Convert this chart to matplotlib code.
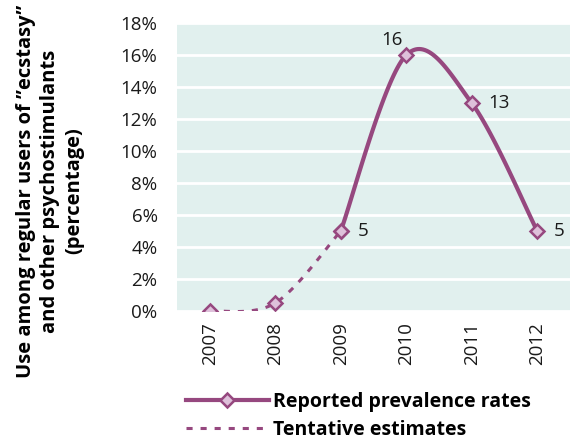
import numpy as np
import matplotlib.pyplot as plt

plt.rcParams['font.family'] = ['Open Sans', 'DejaVu Sans']
plt.rcParams['font.size'] = 13.5

years = [2007, 2008, 2009, 2010, 2011, 2012]
reported_years = [2009, 2010, 2011, 2012]
reported_vals = [5, 16, 13, 5]
tentative_years = [2007, 2008, 2009]
tentative_vals = [0, 0.5, 5]
labels = {2009: '5', 2010: '16', 2011: '13', 2012: '5'}

line_col = '#96487f'
face_col = '#dec0da'
bg_col = '#e1f0ee'


def smooth(xs, ys, n=40):
    # catmull-rom style smoothing, like a spreadsheet "smoothed line"
    xs = np.asarray(xs, float)
    ys = np.asarray(ys, float)
    px = np.concatenate([[xs[0]], xs, [xs[-1]]])
    py = np.concatenate([[ys[0]], ys, [ys[-1]]])
    outx, outy = [], []
    for i in range(1, len(px) - 2):
        p0, p1, p2, p3 = [np.array([px[j], py[j]]) for j in (i - 1, i, i + 1, i + 2)]
        c1 = p1 + (p2 - p0) / 6
        c2 = p2 - (p3 - p1) / 6
        t = np.linspace(0, 1, n)[:, None]
        b = (1 - t) ** 3 * p1 + 3 * (1 - t) ** 2 * t * c1 + 3 * (1 - t) * t ** 2 * c2 + t ** 3 * p2
        outx.extend(b[:, 0])
        outy.extend(b[:, 1])
    return outx, outy


fig = plt.figure(figsize=(5.7, 4.44), dpi=100)
ax = fig.add_axes([0.3105, 0.2995, 0.6895, 0.6486])
ax.set_facecolor(bg_col)

sx, sy = smooth(tentative_years, tentative_vals)
ax.plot(sx, sy, color=line_col, lw=2.2, ls=(0, (2, 2.6)), zorder=2)
sx, sy = smooth(reported_years, reported_vals)
ax.plot(sx, sy, color=line_col, lw=3, zorder=3)

ax.plot(years[:3], tentative_vals, ls='none', marker='D', ms=7.5,
        mfc=face_col, mec=line_col, mew=1.8, zorder=4)
ax.plot(reported_years, reported_vals, ls='none', marker='D', ms=7.5,
        mfc=face_col, mec=line_col, mew=1.8, zorder=4)

for yr, v in zip(reported_years, reported_vals):
    if yr == 2010:
        ax.annotate(labels[yr], (yr, v), xytext=(-10, 11), textcoords='offset points',
                    ha='center', va='center', color='#1a1a1a')
    else:
        ax.annotate(labels[yr], (yr, v), xytext=(12, 0), textcoords='offset points',
                    ha='left', va='center', color='#1a1a1a')

ax.set_xlim(2006.5, 2012.5)
ax.set_ylim(0, 18)
ax.set_yticks(range(0, 19, 2))
ax.set_yticklabels([f'{v}%' for v in range(0, 19, 2)], color='#1a1a1a')
ax.set_xticks(years)
ax.set_xticklabels([str(y) for y in years], rotation=90, color='#1a1a1a')
ax.tick_params(axis='y', length=0, pad=14)
ax.tick_params(axis='x', length=0, pad=8)
ax.grid(axis='y', color='white', lw=2)
ax.set_axisbelow(True)
for s in ax.spines.values():
    s.set_visible(False)

fig.text(0.088, 0.57, 'Use among regular users of \u201decstasy\u201d\nand other psychostimulants\n(percentage)',
         rotation=90, ha='center', va='center', fontweight='bold', fontsize=14.5,
         linespacing=1.3)

h1 = plt.Line2D([], [], color=line_col, lw=3, marker='D', ms=7.5,
                mfc=face_col, mec=line_col, mew=1.8)
h2 = plt.Line2D([], [], color=line_col, lw=2.2, ls=(0, (2, 2.6)))
fig.legend([h1, h2], ['Reported prevalence rates', 'Tentative estimates'],
           loc='lower left', bbox_to_anchor=(0.295, -0.03), frameon=False,
           handlelength=4.3, handletextpad=0.2, labelspacing=0.42,
           prop={'weight': 'bold', 'size': 14})

fig.savefig('out.png', dpi=100)
